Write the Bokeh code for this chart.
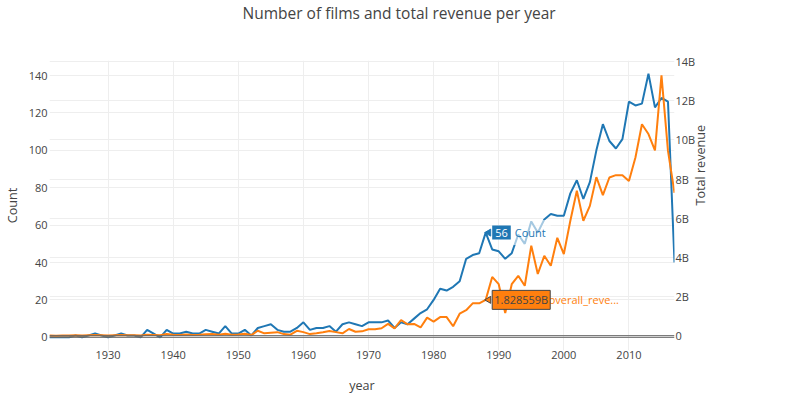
import math
from bokeh.plotting import figure
from bokeh.layouts import row
from bokeh.models import (LinearAxis, Range1d, Grid, Span, Legend, LegendItem, Label, Title,
                          CustomJSTickFormatter, FixedTicker)
from bokeh.embed import file_html
from bokeh.resources import INLINE

# ---------------- data ----------------
years = list(range(1921, 2018))
film_count = [
    0, 0, 0, 0, 1, 0, 1, 2, 1, 0,          # 1921-1930
    1, 2, 1, 1, 0, 4, 2, 0, 4, 2,          # 1931-1940
    2, 3, 2, 2, 4, 3, 2, 6, 2, 2,          # 1941-1950
    4, 1, 5, 6, 7, 4, 3, 3, 5, 8,          # 1951-1960
    4, 5, 5, 6, 3, 7, 8, 7, 6, 8,          # 1961-1970
    8, 8, 9, 5, 8, 7, 10, 13, 15, 20,      # 1971-1980
    26, 25, 27, 30, 42, 44, 45, 56, 47, 46,  # 1981-1990
    42, 45, 55, 50, 62, 56, 63, 66, 65, 65,  # 1991-2000
    77, 84, 74, 83, 100, 114, 105, 101, 106, 126,  # 2001-2010
    124, 125, 141, 123, 128, 126, 40,      # 2011-2017
]
revenue_billions = [
    0.01, 0.00, 0.01, 0.01, 0.02, 0.01, 0.02, 0.03, 0.02, 0.01,   # 1921-1930
    0.02, 0.03, 0.02, 0.02, 0.01, 0.05, 0.04, 0.02, 0.08, 0.05,   # 1931-1940
    0.04, 0.06, 0.04, 0.05, 0.07, 0.08, 0.05, 0.10, 0.05, 0.06,   # 1941-1950
    0.10, 0.03, 0.25, 0.12, 0.15, 0.18, 0.08, 0.05, 0.25, 0.18,   # 1951-1960
    0.08, 0.12, 0.17, 0.24, 0.18, 0.12, 0.34, 0.20, 0.22, 0.33,   # 1961-1970
    0.33, 0.38, 0.60, 0.37, 0.80, 0.58, 0.60, 0.42, 0.92, 0.72,   # 1971-1980
    0.95, 0.95, 0.48, 1.12, 1.30, 1.65, 1.65, 1.828559, 3.00, 2.63,  # 1981-1990
    1.16, 2.63, 3.06, 2.55, 4.60, 3.15, 4.08, 3.57, 5.00, 4.17,   # 1991-2000
    5.87, 7.40, 5.87, 6.63, 8.10, 7.18, 8.08, 8.20, 8.20, 7.90,   # 2001-2010
    9.10, 10.80, 10.30, 9.47, 13.30, 9.44, 7.30,                  # 2011-2017
]
x_ticks = [1930, 1940, 1950, 1960, 1970, 1980, 1990, 2000, 2010]
count_ticks = [0, 20, 40, 60, 80, 100, 120, 140]
revenue_ticks = [0, 2, 4, 6, 8, 10, 12, 14]
series_names = ["Count", "overall_revenue"]
hover_year = 1988

# ---------------- style / layout ----------------
FONT = "Open Sans"
TXT = "#444444"
BLUE = "#1f77b4"
ORANGE = "#ff7f0e"
GRID = "#eeeeee"
FW, FH = 625, 290
B_LEFT, B_RIGHT, B_TOP, B_BOTTOM = 47, 41, 60, 46

cmax = max(film_count)
rmax = max(revenue_billions)

p = figure(frame_width=FW, frame_height=FH, title=None,
           min_border_left=B_LEFT, min_border_right=B_RIGHT,
           min_border_top=B_TOP, min_border_bottom=B_BOTTOM,
           x_range=Range1d(years[0], years[-1]),
           y_range=Range1d(-0.05 * cmax, 1.05 * cmax),
           output_backend="svg", toolbar_location=None,
           background_fill_color="white", border_fill_color="white",
           outline_line_color=None)
p.extra_y_ranges = {"rev": Range1d(-0.057 * rmax, 1.057 * rmax)}


def style_axis(ax):
    ax.axis_line_color = None
    ax.major_tick_line_color = None
    ax.minor_tick_line_color = None
    ax.major_tick_out = 0
    ax.minor_tick_out = 0
    ax.major_tick_in = 0
    ax.minor_tick_in = 0
    ax.major_label_text_font = FONT
    ax.major_label_text_font_size = "11px"
    ax.major_label_text_color = TXT
    ax.axis_label_text_font = FONT
    ax.axis_label_text_font_size = "12.6px"
    ax.axis_label_text_font_style = "normal"
    ax.axis_label_text_color = TXT


xax = p.xaxis[0]
yax = p.yaxis[0]
style_axis(xax)
style_axis(yax)
xax.ticker = FixedTicker(ticks=x_ticks)
xax.major_label_standoff = 0
xax.axis_label = "year"
xax.axis_label_standoff = 15
yax.ticker = FixedTicker(ticks=count_ticks)
yax.major_label_standoff = 2
yax.axis_label = "Count"
yax.axis_label_standoff = 5

rax = LinearAxis(y_range_name="rev", ticker=FixedTicker(ticks=revenue_ticks),
                 formatter=CustomJSTickFormatter(code="return tick == 0 ? '0' : tick + 'B';"))
style_axis(rax)
rax.major_label_standoff = 1
rax.axis_label = "Total revenue"
rax.axis_label_standoff = 2
rax.axis_label_orientation = math.pi / 2
p.add_layout(rax, "right")

# grids
p.xgrid.grid_line_color = GRID
p.xgrid.ticker = FixedTicker(ticks=x_ticks)
p.ygrid.grid_line_color = GRID
p.ygrid.ticker = FixedTicker(ticks=count_ticks)
p.add_layout(Grid(dimension=1, ticker=FixedTicker(ticks=revenue_ticks),
                  y_range_name="rev", grid_line_color=GRID))

# zero lines
p.add_layout(Span(location=0, dimension="width", line_color="#666666", line_width=1))
p.add_layout(Span(location=0, dimension="width", y_range_name="rev",
                  line_color="#666666", line_width=1))

# series
r1 = p.line(years, film_count, line_color=BLUE, line_width=2)
r2 = p.line(years, revenue_billions, y_range_name="rev", line_color=ORANGE, line_width=2)

# ---- title (spacer keeps it at the top of the page) ----
spacer = Title(text=" ", text_font_size="1px", standoff=33)
title = Title(text="Number of films and total revenue per year", align="left", offset=193,
              vertical_align="middle", standoff=0,
              text_font=FONT, text_font_size="15.5px", text_font_style="normal",
              text_color=TXT)
p.add_layout(spacer, "above")
p.add_layout(title, "above")

# ---- hover-style labels at 1988 inside the frame ----
i = years.index(hover_year)
c_at = film_count[i]
r_at = revenue_billions[i]
ppy = FW / (years[-1] - years[0])

p.add_layout(Label(x=hover_year, y=c_at, x_offset=24, text=series_names[0],
                   text_font=FONT, text_font_size="11px", text_color=BLUE,
                   text_baseline="middle", background_fill_color="white",
                   background_fill_alpha=0.6, padding=5))
p.add_layout(Label(x=hover_year, y=c_at, x_offset=6.5, text=str(c_at),
                   text_font=FONT, text_font_size="11px", text_color="white",
                   text_baseline="middle", background_fill_color=BLUE, padding=3))
p.scatter([hover_year + 3 / ppy], [c_at], marker="triangle", angle=math.pi / 2,
          size=7, fill_color=BLUE, line_color=BLUE)

p.add_layout(Label(x=hover_year, y=r_at, y_range_name="rev", x_offset=63,
                   text="overall_reve...",
                   text_font=FONT, text_font_size="11px", text_color=ORANGE,
                   text_baseline="middle"))
p.add_layout(Label(x=hover_year, y=r_at, y_range_name="rev", x_offset=6.5,
                   text=f"{r_at:.6f}B",
                   text_font=FONT, text_font_size="11px", text_color=TXT,
                   text_baseline="middle", background_fill_color=ORANGE,
                   border_line_color=TXT, border_line_width=1, padding=2))
p.scatter([hover_year + 3 / ppy], [r_at], y_range_name="rev", marker="triangle",
          angle=math.pi / 2, size=7, fill_color=ORANGE, line_color=TXT)

# ---- legend: a small companion figure to the right of the chart ----
LW, LH = 97, 110
leg_fig = figure(width=LW, height=LH, x_range=Range1d(0, 1), y_range=Range1d(0, 1),
                 x_axis_location=None, y_axis_location=None,
                 min_border=0, output_backend="svg", toolbar_location=None,
                 background_fill_color="white", border_fill_color="white",
                 outline_line_color=None)
leg_fig.grid.visible = False
k1 = leg_fig.line([], [], line_color=BLUE, line_width=2)
k2 = leg_fig.line([], [], line_color=ORANGE, line_width=2)
LEG_PAD, LEG_ROW = 1, 16
leg_h = 2 * LEG_ROW + 2 * LEG_PAD
legend = Legend(items=[LegendItem(label=series_names[0], renderers=[k1]),
                       LegendItem(label=series_names[1], renderers=[k2])],
                location=(0, LH - 60 - leg_h), orientation="vertical",
                label_text_font=FONT, label_text_font_size="10.3px", label_text_color=TXT,
                glyph_width=14, glyph_height=LEG_ROW, label_height=LEG_ROW, label_standoff=4,
                spacing=0, padding=LEG_PAD, margin=0,
                border_line_color=None, background_fill_color="white",
                background_fill_alpha=1.0)
leg_fig.add_layout(legend)

layout = row(p, leg_fig)
open("out.html", "w").write(file_html(layout, INLINE))
